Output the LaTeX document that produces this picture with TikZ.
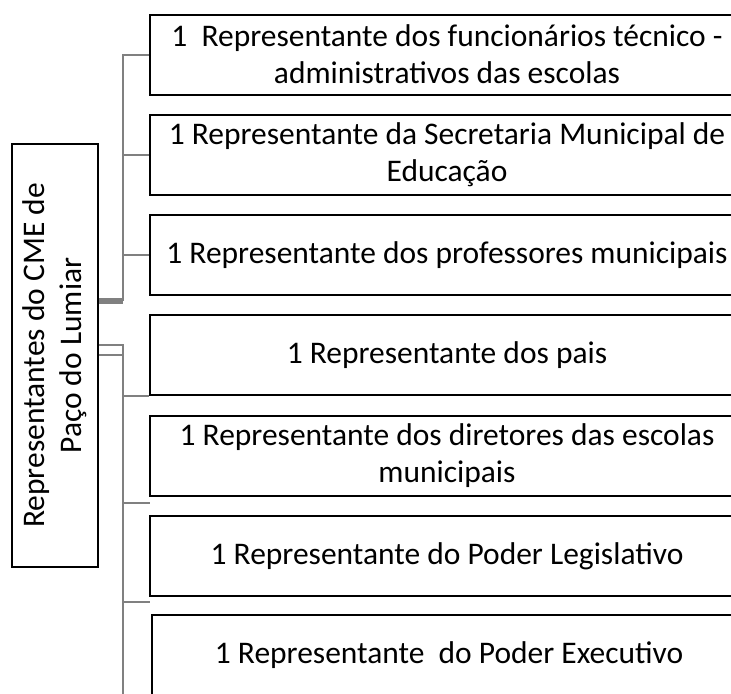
\documentclass[tikz,border=0pt]{standalone}
\usepackage{fontspec}
\setmainfont{Carlito}
\usepackage{tikz}
\usetikzlibrary{positioning}

\definecolor{linkgray}{RGB}{128,128,128}
\tikzset{
  repbox/.style={draw, line width=1.5pt, minimum width=445.5pt, minimum height=60pt,
    inner sep=0pt, align=center, font=\fontsize{23.6}{28}\selectfont},
  conn/.style={draw=linkgray, line width=1.5pt},
}

\begin{document}
\begin{tikzpicture}[x=0.75pt, y=-0.75pt]
  \path[use as bounding box, clip] (0,0) rectangle (731,693);
  \node[repbox, rotate=90, minimum width=317.25pt, minimum height=64.5pt] (cme) at (55,355.5) {Representantes do CME de\\Paço do Lumiar};
  \node[repbox] (r1) at (447,54.5) {1\ \ Representante dos funcionários técnico -\\administrativos das escolas};
  \node[repbox] (r2) at (447,155) {1 Representante da Secretaria Municipal de\\Educação};
  \node[repbox] (r3) at (447,255) {1 Representante dos professores municipais};
  \node[repbox] (r4) at (447,355) {1 Representante dos pais};
  \node[repbox] (r5) at (447,455.5) {1 Representante dos diretores das escolas\\municipais};
  \node[repbox] (r6) at (447,556) {1 Representante do Poder Legislativo};
  \node[repbox] (r7) at (449,655) {1 Representante\ \ do Poder Executivo};

  \coordinate (hubA) at (123,301);
  \coordinate (hubB) at (123,345);
  \coordinate (hubC) at (123,355);
  \coordinate (hubEnd) at (123,700);
  \coordinate (k5) at (150,503);
  \coordinate (k6) at (150,602);

  \draw[conn] (hubA) |- (r1.west);
  \draw[conn] (hubA) |- (r2.west);
  \draw[conn] (hubA) |- (r3.west);
  \draw[conn, line width=4.5pt] (cme.south |- hubA) -- (hubA);
  \draw[conn] (cme.south |- hubB) -- (hubB) -- (hubEnd);
  \draw[conn] (cme.south |- hubC) -- (hubC);
  \draw[conn] (hubB) |- (r4.south west);
  \draw[conn] (hubB) |- (k5);
  \draw[conn] (hubB) |- (k6);
\end{tikzpicture}
\end{document}
